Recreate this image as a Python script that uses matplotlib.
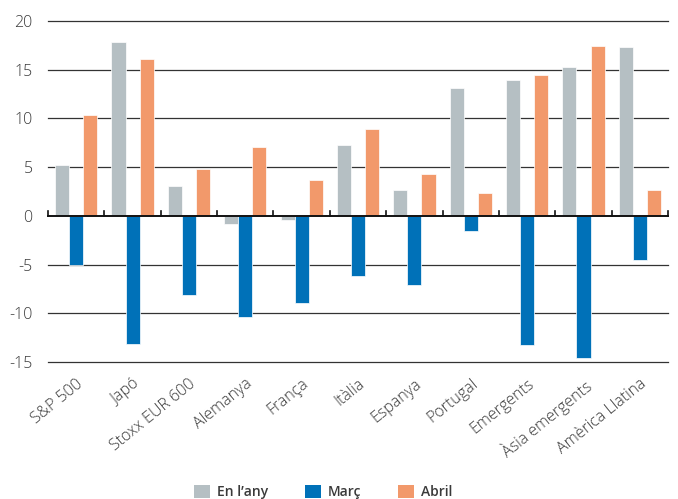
import numpy as np
import matplotlib.pyplot as plt
from matplotlib.patches import Patch

plt.rcParams['font.family'] = ['Open Sans', 'DejaVu Sans']

categories = ['S&P 500', 'Japó', 'Stoxx EUR 600', 'Alemanya', 'França', 'Itàlia',
              'Espanya', 'Portugal', 'Emergents', 'Àsia emergents', 'Amèrica Llatina']
en_lany = [5.2, 17.8, 3.1, -0.8, -0.4, 7.3, 2.7, 13.1, 13.9, 15.3, 17.3]
marc = [-5.0, -13.2, -8.1, -10.4, -8.9, -6.2, -7.1, -1.6, -13.3, -14.6, -4.5]
abril = [10.4, 16.1, 4.8, 7.1, 3.7, 8.9, 4.3, 2.3, 14.5, 17.4, 2.7]
series_names = ['En l\u2019any', 'Març', 'Abril']
yticks = [-15, -10, -5, 0, 5, 10, 15, 20]

c_gray = '#b5bfc3'
c_blue = '#0071b8'
c_orange = '#f2996b'
txt = '#3a3a3a'

fig = plt.figure(figsize=(6.78, 4.99), dpi=100)
ax = fig.add_axes([48 / 678, 1 - 362 / 499, 620 / 678, 341 / 499])

x = np.arange(len(categories))
w = 0.25
ax.bar(x - w, en_lany, w, color=c_gray, edgecolor='white', linewidth=0.5, zorder=3)
ax.bar(x, marc, w, color=c_blue, edgecolor='white', linewidth=0.5, zorder=3)
ax.bar(x + w, abril, w, color=c_orange, edgecolor='white', linewidth=0.5, zorder=3)

for v in yticks:
    if v == 0:
        continue
    ax.axhline(v, color='#333333', lw=0.9, zorder=1, clip_on=False)
ax.axhline(0, color='#111111', lw=1.4, zorder=4, clip_on=False)
for k in range(len(categories) + 1):
    ax.plot([k - 0.5, k - 0.5], [0, 0.45], color='#111111', lw=1.2, zorder=4, clip_on=False)

ax.set_xlim(-0.5, len(categories) - 0.5)
ax.set_ylim(-15, 20)
ax.set_yticks(yticks)
ax.set_yticklabels([str(v) for v in yticks], fontsize=11.5, color=txt, fontweight='light')
ax.tick_params(axis='y', length=0, pad=11)
ax.set_xticks(x)
ax.set_xticklabels(categories, rotation=39, ha='right', rotation_mode='anchor',
                   fontsize=11.5, color=txt, fontweight='light')
ax.tick_params(axis='x', length=0, pad=10)
for s in ax.spines.values():
    s.set_visible(False)

handles = [Patch(facecolor=c, edgecolor='none') for c in (c_gray, c_blue, c_orange)]
fig.legend(handles, series_names, loc='center left', bbox_to_anchor=(188 / 678, 1 - 492 / 499),
           ncol=3, frameon=False, handlelength=1.15, handleheight=1.15, handletextpad=0.55,
           columnspacing=2.6, borderaxespad=0, prop={'size': 10, 'weight': 'semibold'},
           labelcolor=txt)

fig.savefig('out.png', dpi=100)
